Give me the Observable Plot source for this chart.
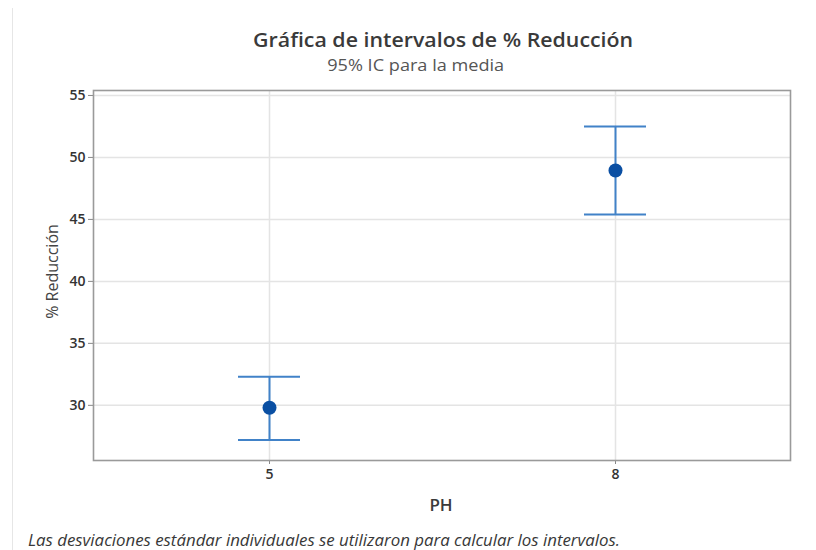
<!DOCTYPE html>
<html>
<head>
<meta charset="utf-8">
<script src="https://cdn.jsdelivr.net/npm/d3@7"></script>
<script src="https://cdn.jsdelivr.net/npm/@observablehq/plot@0.6"></script>
<style>
  html, body { margin: 0; padding: 0; background: #fff; }
  #wrap { position: relative; width: 816px; height: 550px; overflow: hidden; font-family: "Open Sans", "Noto Sans", sans-serif; }
  #edge { position: absolute; left: 12px; top: 8px; width: 1px; height: 542px; background: #e6e6e6; }
  .fit { position: absolute; white-space: nowrap; transform-origin: 50% 50%; }
  #title { top: 26px; font-size: 20px; font-weight: 600; color: #3a3a3a; line-height: 28px; }
  #subtitle { top: 55px; font-size: 15.5px; color: #555; line-height: 20px; }
  #chart { position: absolute; left: 0; top: 80px; }
  #xlabel { top: 493px; font-size: 17px; font-weight: 600; color: #3a3a3a; line-height: 24px; }
  #foot { top: 529px; font-size: 16px; font-style: italic; color: #383838; line-height: 22px; }
</style>
</head>
<body>
<div id="wrap">
  <div id="edge"></div>
  <div id="title" class="fit" data-cx="443" data-w="380">Gráfica de intervalos de % Reducción</div>
  <div id="subtitle" class="fit" data-cx="416" data-w="177">95% IC para la media</div>
  <div id="chart"></div>
  <div id="xlabel" class="fit" data-cx="441" data-w="0">PH</div>
  <div id="foot" class="fit" data-x0="28" data-w="592">Las desviaciones estándar individuales se utilizaron para calcular los intervalos.</div>
</div>
<script>
const phLevels = ["5", "8"];
const means = [29.8, 48.95];
const lower = [27.2, 45.4];
const upper = [32.3, 52.5];
const yTicks = [30, 35, 40, 45, 50, 55];

const data = phLevels.map((ph, i) => ({ph, mean: means[i], lo: lower[i], hi: upper[i]}));

const lineColor = "#4182c8";
const dotColor = "#0a4fa3";

const chart = Plot.plot({
  width: 816,
  height: 420,
  marginLeft: 93,
  marginRight: 26,
  marginTop: 10,
  marginBottom: 40,
  style: {fontFamily: "'Open Sans', 'Noto Sans', sans-serif", background: "transparent", overflow: "visible"},
  x: {type: "band", domain: phLevels, paddingInner: 0.821, paddingOuter: 0.415, label: null},
  y: {domain: [25.55, 55.4], label: null},
  marks: [
    Plot.gridY(yTicks, {stroke: "#e4e4e4", strokeOpacity: 1, strokeWidth: 1.5}),
    Plot.gridX(phLevels, {stroke: "#e4e4e4", strokeOpacity: 1, strokeWidth: 1.5}),
    Plot.axisY(yTicks, {tickSize: 5, tickPadding: 3, fontSize: 14, fontWeight: 600, fill: "#333", stroke: "#888", label: null}),
    Plot.axisX(phLevels, {tickSize: 4, tickPadding: 5, fontSize: 14, fontWeight: 600, fill: "#333", stroke: "#888", label: null}),
    Plot.text(["% Reducción"], {frameAnchor: "left", textAnchor: "middle", dx: -41, dy: -4, rotate: -90, fontSize: 16, fill: "#444"}),
    Plot.ruleX(data, {x: "ph", y1: "lo", y2: "hi", stroke: lineColor, strokeWidth: 2}),
    Plot.tickY(data, {x: "ph", y: "lo", stroke: lineColor, strokeWidth: 2}),
    Plot.tickY(data, {x: "ph", y: "hi", stroke: lineColor, strokeWidth: 2}),
    Plot.dot(data, {x: "ph", y: "mean", r: 7, fill: dotColor, stroke: "none"}),
    Plot.frame({stroke: "#9a9a9a", strokeWidth: 1.6})
  ]
});
document.getElementById("chart").appendChild(chart);

// Fit header/footer texts to the reference widths
document.querySelectorAll(".fit").forEach(el => {
  const w = el.getBoundingClientRect().width;
  const target = +el.dataset.w || w;
  const s = target / w;
  if (el.dataset.x0 !== undefined) {
    el.style.left = el.dataset.x0 + "px";
    el.style.transformOrigin = "0 50%";
  } else {
    el.style.left = (+el.dataset.cx - w / 2) + "px";
  }
  el.style.transform = `scaleX(${s})`;
});
</script>
</body>
</html>
